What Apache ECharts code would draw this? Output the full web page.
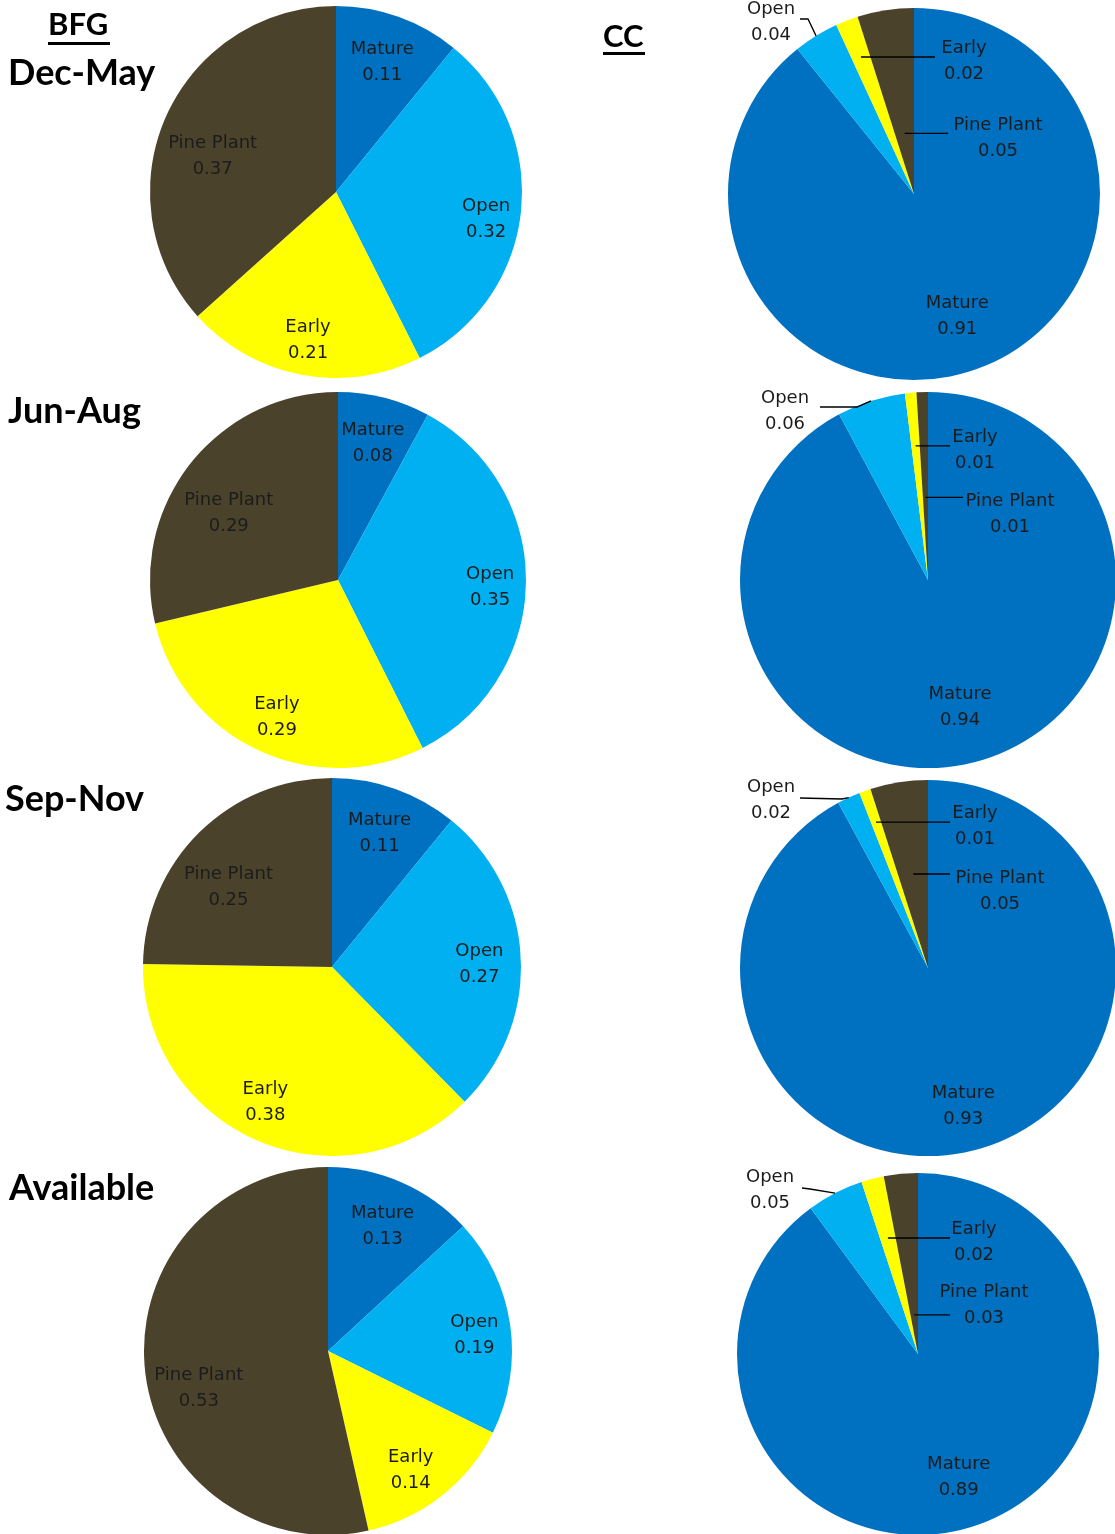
<!DOCTYPE html>
<html>
<head>
<meta charset="utf-8">
<title>BFG and CC habitat use</title>
<script src="https://cdn.jsdelivr.net/npm/echarts@6/dist/echarts.min.js"></script>
<style>
  html, body { margin: 0; padding: 0; background: #ffffff; }
  #chart { width: 1115px; height: 1534px; }
</style>
</head>
<body>
<div id="chart"></div>
<script>
// Habitat categories, in slice order (clockwise from 12 o'clock)
const categories = ['Mature', 'Open', 'Early', 'Pine Plant'];

// Proportions per season: BFG column
const bfgDecMay    = [0.11, 0.32, 0.21, 0.37];
const bfgJunAug    = [0.08, 0.35, 0.29, 0.29];
const bfgSepNov    = [0.11, 0.27, 0.38, 0.25];
const bfgAvailable = [0.13, 0.19, 0.14, 0.53];

// Proportions per season: CC column
const ccDecMay    = [0.91, 0.04, 0.02, 0.05];
const ccJunAug    = [0.94, 0.06, 0.01, 0.01];
const ccSepNov    = [0.93, 0.02, 0.01, 0.05];
const ccAvailable = [0.89, 0.05, 0.02, 0.03];

// Row and column headings
const periodLabels = ['Dec-May', 'Jun-Aug', 'Sep-Nov', 'Available'];
const groupLabels = ['BFG', 'CC'];

// ---- styling ----
const sliceColors = ['#0070C0', '#00B0F0', '#FFFF00', '#4A422A'];
const labelFont = 'DejaVu Sans';
const headFont = 'Lato';

// Pie geometry: [cx, cy, r]
const bfgGeom = [[336, 192, 186], [338, 580, 188], [332, 967, 189], [328, 1351, 184]];
const ccGeom  = [[914, 194, 186], [928, 580, 188], [928, 968, 188], [918, 1354, 181]];

// Label placement for in-slice labels: [fraction of radius, angle shift in degrees]
const bfgLabelPlace = [
  { inside: [[0.74, 0], [0.82, 4], [0.81, 0], [0.69, -8]] },
  { inside: [[0.75, 0], [0.81, 2], [0.80, -1], [0.68, -7]] },
  { inside: [[0.75, 0], [0.78, 1.5], [0.80, 3], [0.69, -8]] },
  { inside: [[0.74, 0], [0.80, 2], [0.79, 3.5], [0.73, -9.6]] }
];
// Small slices get leader lines; offsets are relative to the pie centre
const ccLabelPlace = [
  { inside: { 0: [0.70, 0] },
    leaders: {
      1: { f: 1, elbow: [-106, -175], end: [-114, -175], text: [-143, -172] },
      2: { f: 0.79, endX: 21, text: [50, -133] },
      3: { f: 0.33, endX: 34, text: [84, -56] } } },
  { inside: { 0: [0.70, 0] },
    leaders: {
      1: { f: 1, elbow: [-71, -173], end: [-108, -173], text: [-143, -169] },
      2: { f: 0.716, endX: 22, text: [47, -130] },
      3: { f: 0.44, endX: 35, text: [82, -66] } } },
  { inside: { 0: [0.76, 0] },
    leaders: {
      1: { f: 1, elbow: [-86, -169], end: [-128, -170], text: [-157, -168] },
      2: { f: 0.824, endX: 22, text: [47, -142] },
      3: { f: 0.506, endX: 22, text: [72, -77] } } },
  { inside: { 0: [0.72, 0] },
    leaders: {
      1: { f: 1, elbow: [-108, -165], end: [-116, -166], text: [-148, -164] },
      2: { f: 0.662, endX: 32, text: [56, -112] },
      3: { f: 0.217, endX: 32, text: [66, -49] } } }
];

// Slices of one pie (no labels)
function pieSlices(values, geom) {
  const [cx, cy, r] = geom;
  return {
    type: 'pie',
    z: 2,
    center: [cx, cy],
    radius: r,
    startAngle: 90,
    clockwise: true,
    silent: true,
    animation: false,
    label: { show: false },
    labelLine: { show: false },
    itemStyle: { borderWidth: 0 },
    data: values.map((v, i) => ({ name: categories[i], value: v, itemStyle: { color: sliceColors[i] } }))
  };
}

// Same pie laid over the slices, transparent, carrying the labels and leader lines
function pieLabels(values, geom, place) {
  const [cx, cy, r] = geom;
  const total = values.reduce((a, b) => a + b, 0);
  const mids = [];
  let acc = 0;
  values.forEach(v => { mids.push((acc + v / 2) / total * 2 * Math.PI); acc += v; });
  const pt = (a, d) => [cx + d * Math.sin(a), cy - d * Math.cos(a)];
  const leaders = place.leaders || {};

  return {
    type: 'pie',
    z: 5,
    center: [cx, cy],
    radius: r,
    startAngle: 90,
    clockwise: true,
    avoidLabelOverlap: false,
    silent: true,
    animation: false,
    itemStyle: { color: 'rgba(0,0,0,0)', borderWidth: 0 },
    data: values.map((v, i) => ({
      name: categories[i],
      value: v,
      label: { position: leaders[i] ? 'outside' : 'inside' },
      labelLine: { show: !!leaders[i] }
    })),
    label: {
      show: true,
      formatter: '{b}\n{c}',
      fontFamily: labelFont,
      fontSize: 18,
      lineHeight: 26,
      color: '#1c1c1c',
      overflow: 'none'
    },
    labelLine: {
      smooth: false,
      lineStyle: { color: '#000000', width: 1.3 }
    },
    labelLayout: function (p) {
      const i = p.dataIndex;
      const lead = leaders[i];
      if (!lead) {
        const [f, da] = place.inside[i];
        const [x, y] = pt(mids[i] + da * Math.PI / 180, f * r);
        return { x: x, y: y, align: 'center', verticalAlign: 'middle' };
      }
      const P = pt(mids[i], lead.f * r);
      let pts;
      if (lead.elbow) {
        pts = [P, [cx + lead.elbow[0], cy + lead.elbow[1]], [cx + lead.end[0], cy + lead.end[1]]];
      } else {
        const ex = cx + lead.endX;
        pts = [P, [(P[0] + ex) / 2, P[1]], [ex, P[1]]];
      }
      return {
        x: cx + lead.text[0],
        y: cy + lead.text[1],
        align: 'center',
        verticalAlign: 'middle',
        labelLinePoints: pts
      };
    }
  };
}

const bfgSets = [bfgDecMay, bfgJunAug, bfgSepNov, bfgAvailable];
const ccSets = [ccDecMay, ccJunAug, ccSepNov, ccAvailable];

const series = [];
bfgSets.forEach((vals, k) => series.push(pieSlices(vals, bfgGeom[k])));
ccSets.forEach((vals, k) => series.push(pieSlices(vals, ccGeom[k])));
bfgSets.forEach((vals, k) => series.push(pieLabels(vals, bfgGeom[k], bfgLabelPlace[k])));
ccSets.forEach((vals, k) => series.push(pieLabels(vals, ccGeom[k], ccLabelPlace[k])));

// Headings
const headStyle = (size) => ({
  fontFamily: headFont, fontWeight: 'bold', fontSize: size, lineHeight: size, color: '#000000'
});
const titlePos = [
  { left: 8, top: 55 },
  { left: 8, top: 393 },
  { left: 5, top: 781 },
  { left: 9, top: 1170 }
];
const titles = periodLabels.map((t, k) => ({
  text: t, left: titlePos[k].left, top: titlePos[k].top, padding: 0, textStyle: headStyle(36)
}));
titles.push({ text: groupLabels[0], left: 48, top: 9, padding: 0, textStyle: headStyle(31) });
titles.push({ text: groupLabels[1], left: 603, top: 21, padding: 0, textStyle: headStyle(31) });

const chart = echarts.init(document.getElementById('chart'), null, { renderer: 'canvas' });
chart.setOption({
  backgroundColor: '#ffffff',
  animation: false,
  title: titles,
  // underlines beneath the column headings
  graphic: [
    { type: 'rect', shape: { x: 48, y: 42, width: 62, height: 3 }, style: { fill: '#000' }, silent: true },
    { type: 'rect', shape: { x: 603, y: 52, width: 42, height: 3 }, style: { fill: '#000' }, silent: true }
  ],
  series: series
});
</script>
</body>
</html>
